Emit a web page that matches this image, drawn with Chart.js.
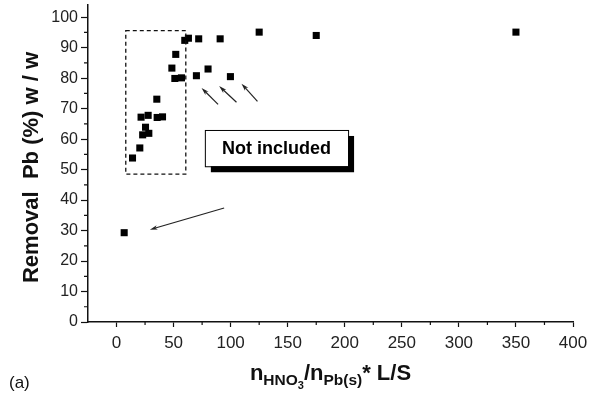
<!DOCTYPE html>
<html>
<head>
<meta charset="utf-8">
<script src="https://cdn.jsdelivr.net/npm/chart.js@4/dist/chart.umd.min.js"></script>
<style>
  html, body { margin: 0; padding: 0; background: #fff; }
  #wrap { width: 599px; height: 393px; position: relative; }
</style>
</head>
<body>
<div id="wrap"><canvas id="c" width="599" height="393"></canvas></div>
<script>
// Molar ratio HNO3 / Pb(s) times liquid-to-solid ratio
const ratioValues = [6.7, 14.0, 20.4, 22.9, 28.3, 25.4, 21.5, 27.7, 35.6, 40.3, 35.3,
                     51.1, 56.9, 48.5, 51.9, 59.8, 63.0, 72.0, 90.8, 70.0, 80.2, 99.8,
                     125, 175, 350];
// Lead removal (% w/w)
const removalValues = [29.3, 53.8, 57.1, 61.4, 61.9, 63.9, 67.2, 67.8, 67.1, 67.3, 73.1,
                       79.9, 80.1, 83.3, 87.8, 92.4, 93.1, 92.9, 92.9, 80.8, 83.0, 80.5,
                       95.1, 94.0, 95.1];
const xTickValues = [0, 50, 100, 150, 200, 250, 300, 350, 400];
const yTickValues = [0, 10, 20, 30, 40, 50, 60, 70, 80, 90, 100];
const boxLabel = 'Not included';
const panelLabel = '(a)';

const FONT = '"Liberation Sans", Arial, Helvetica, sans-serif';
const INK = '#111';

const points = ratioValues.map((x, i) => ({ x: x, y: removalValues[i] }));

// Annotations given in data units: excluded-region frame, label box, arrows
const excludedFrame = { x0: 8.1, x1: 60.7, y0: 48.5, y1: 95.6 };
const labelBox = { x0: 77.4, x1: 202.9, y0: 51.1, y1: 63.0 };
const arrows = [
  [89.0, 71.4, 74.5, 76.8],
  [105.1, 72.1, 89.9, 77.4],
  [123.5, 72.4, 109.5, 78.2],
  [94.3, 37.4, 29.2, 30.3]
];

function arrow(ctx, x1, y1, x2, y2) {
  const a = Math.atan2(y2 - y1, x2 - x1);
  const head = 8, spread = 0.28;
  ctx.beginPath();
  ctx.moveTo(x1, y1);
  ctx.lineTo(x2 - Math.cos(a) * 4, y2 - Math.sin(a) * 4);
  ctx.stroke();
  ctx.beginPath();
  ctx.moveTo(x2, y2);
  ctx.lineTo(x2 - head * Math.cos(a - spread), y2 - head * Math.sin(a - spread));
  ctx.lineTo(x2 - head * 0.7 * Math.cos(a), y2 - head * 0.7 * Math.sin(a));
  ctx.lineTo(x2 - head * Math.cos(a + spread), y2 - head * Math.sin(a + spread));
  ctx.closePath();
  ctx.fill();
}

const decorations = {
  id: 'decorations',
  afterDraw(chart) {
    const ctx = chart.ctx;
    const xs = chart.scales.x, ys = chart.scales.y;
    const X = v => xs.getPixelForValue(v);
    const Y = v => ys.getPixelForValue(v);
    ctx.save();

    // minor ticks halfway between labelled ticks
    ctx.strokeStyle = INK;
    ctx.lineWidth = 1.2;
    const axisY = chart.chartArea.bottom, axisX = chart.chartArea.left;
    ctx.beginPath();
    for (let v = 25; v < 400; v += 50) {
      const px = X(v);
      ctx.moveTo(px, axisY); ctx.lineTo(px, axisY + 3);
    }
    for (let v = 5; v < 100; v += 10) {
      const py = Y(v);
      ctx.moveTo(axisX, py); ctx.lineTo(axisX - 4, py);
    }
    ctx.stroke();

    // dashed frame around the excluded points
    ctx.setLineDash([4, 3]);
    ctx.lineWidth = 1.3;
    ctx.strokeRect(X(excludedFrame.x0), Y(excludedFrame.y1),
                   X(excludedFrame.x1) - X(excludedFrame.x0),
                   Y(excludedFrame.y0) - Y(excludedFrame.y1));
    ctx.setLineDash([]);

    // label box with drop shadow
    const bx = X(labelBox.x0), by = Y(labelBox.y1);
    const bw = X(labelBox.x1) - bx, bh = Y(labelBox.y0) - by;
    ctx.fillStyle = '#000';
    ctx.fillRect(bx + 6, by + 6, bw, bh);
    ctx.fillStyle = '#fff';
    ctx.fillRect(bx, by, bw, bh);
    ctx.lineWidth = 1;
    ctx.strokeStyle = '#000';
    ctx.strokeRect(bx + 0.5, by + 0.5, bw, bh);
    ctx.fillStyle = '#000';
    ctx.font = 'bold 18px ' + FONT;
    ctx.textAlign = 'center';
    ctx.textBaseline = 'middle';
    ctx.fillText(boxLabel, bx + bw / 2, by + bh / 2 + 1);

    // arrows
    ctx.strokeStyle = '#222';
    ctx.fillStyle = '#222';
    ctx.lineWidth = 1.2;
    arrows.forEach(a => arrow(ctx, X(a[0]), Y(a[1]), X(a[2]), Y(a[3])));

    // y-axis title
    ctx.fillStyle = INK;
    ctx.font = 'bold 22px ' + FONT;
    ctx.textAlign = 'center';
    ctx.textBaseline = 'middle';
    ctx.save();
    ctx.translate(32, (chart.chartArea.top + chart.chartArea.bottom) / 2 + 4);
    ctx.rotate(-Math.PI / 2);
    ctx.fillText('Removal  Pb (%) w / w', 0, 0);
    ctx.restore();

    // x-axis title with subscripts
    const base = 380;
    const parts = [
      { t: 'n', s: 22, dy: 0 },
      { t: 'HNO', s: 15.5, dy: 5 },
      { t: '3', s: 11, dy: 9 },
      { t: '/n', s: 22, dy: 0 },
      { t: 'Pb(s)', s: 15.5, dy: 5 },
      { t: '* L/S', s: 22, dy: 0 }
    ];
    let total = 0;
    parts.forEach(p => { ctx.font = 'bold ' + p.s + 'px ' + FONT; p.w = ctx.measureText(p.t).width; total += p.w; });
    let cx = (chart.chartArea.left + chart.chartArea.right) / 2 - total / 2;
    ctx.textAlign = 'left';
    ctx.textBaseline = 'alphabetic';
    parts.forEach(p => {
      ctx.font = 'bold ' + p.s + 'px ' + FONT;
      ctx.fillText(p.t, cx, base + p.dy);
      cx += p.w;
    });

    // panel label
    ctx.font = '17px ' + FONT;
    ctx.fillText(panelLabel, 9, 388);
    ctx.restore();
  }
};

new Chart(document.getElementById('c'), {
  type: 'scatter',
  data: {
    datasets: [{
      data: points,
      pointStyle: 'rect',
      pointRadius: 5,
      pointHoverRadius: 5,
      backgroundColor: '#000',
      borderColor: '#000',
      borderWidth: 0
    }]
  },
  options: {
    responsive: false,
    animation: false,
    events: [],
    layout: { padding: { left: 0, right: 26, top: 4, bottom: 0 } },
    plugins: { legend: { display: false }, tooltip: { enabled: false } },
    scales: {
      x: {
        type: 'linear',
        min: -25,
        max: 400,
        afterFit(s) { s.height = 71; s.paddingLeft = 0; s.paddingRight = 0; },
        afterBuildTicks(s) { s.ticks = xTickValues.map(v => ({ value: v })); },
        grid: { drawOnChartArea: false, tickLength: 5, tickColor: INK, tickWidth: 1.2 },
        border: { color: INK, width: 1.5 },
        ticks: { color: '#222', font: { family: FONT, size: 17 }, padding: 6, maxRotation: 0 }
      },
      y: {
        type: 'linear',
        min: 0,
        max: 104,
        afterFit(s) { s.width = 88; s.paddingTop = 0; s.paddingBottom = 0; },
        afterBuildTicks(s) { s.ticks = yTickValues.map(v => ({ value: v })); },
        grid: { drawOnChartArea: false, tickLength: 7, tickColor: INK, tickWidth: 1.2 },
        border: { color: INK, width: 1.5 },
        ticks: { color: '#222', font: { family: FONT, size: 16 }, padding: 3 }
      }
    }
  },
  plugins: [decorations]
});
</script>
</body>
</html>
